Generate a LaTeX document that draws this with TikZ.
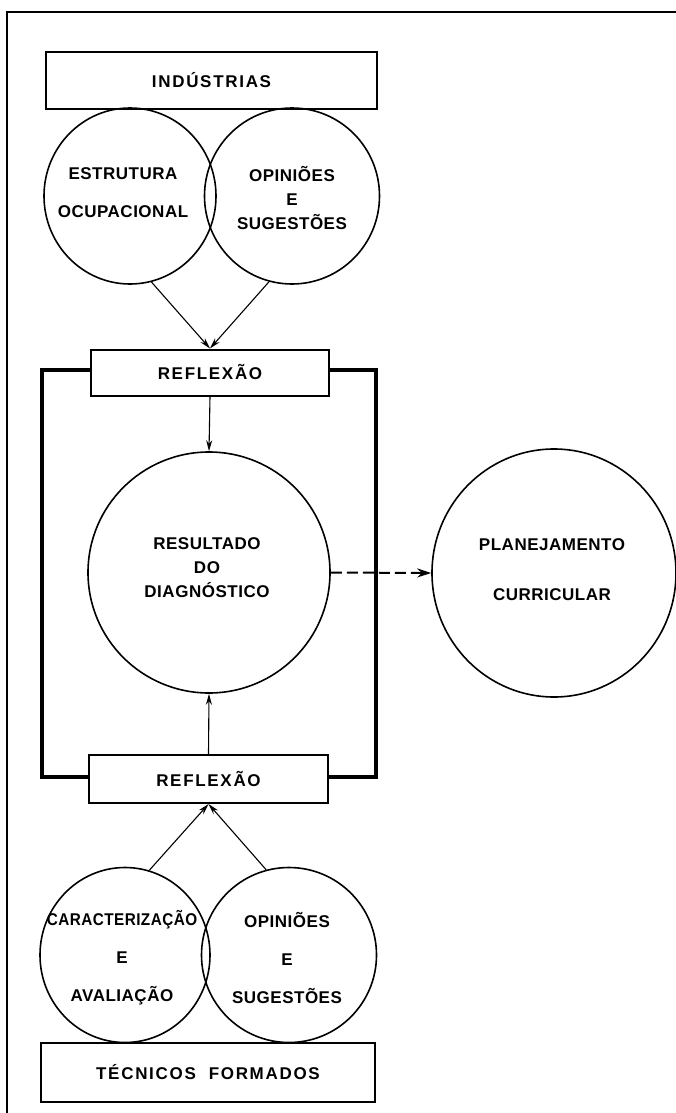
\documentclass[tikz,border=0pt]{standalone}
\usepackage{fontspec}
\usetikzlibrary{shapes.geometric,arrows.meta}
\newfontfamily\lab[LetterSpace=3]{Liberation Sans}
\newfontfamily\boxlab[LetterSpace=10]{Liberation Sans}
\begin{document}
\begin{tikzpicture}[x=1pt,y=-1pt,
  txt/.style={font=\lab\bfseries\fontsize{17}{24}\selectfont, align=center},
  boxnode/.style={draw, line width=2pt, fill=white, rectangle, inner sep=0pt, font=\boxlab\bfseries\fontsize{17}{24}\selectfont},
  ring/.style={draw, line width=1.6pt, ellipse, inner sep=0pt},
  arr/.style={line width=1.1pt, -{Stealth[length=11pt,width=6pt]}},
  frameline/.style={line width=3.4pt}]
\useasboundingbox (0,0) rectangle (676,1113);
% outer frame
\draw[line width=2pt] (7,1113) -- (7,12) -- (676,12);
% thick loop frame
\draw[frameline] (42,370) rectangle (376,777);
% boxes
\node[boxnode, minimum width=331pt, minimum height=57pt] (ind) at (211.5,80.5) {IND\'USTRIAS};
\node[boxnode, minimum width=238pt, minimum height=46pt] (r1) at (210,372.5) {REFLEX\~AO};
\node[boxnode, minimum width=239pt, minimum height=48pt] (r2) at (208.5,779) {REFLEX\~AO};
\node[boxnode, minimum width=334pt, minimum height=59pt] (tec) at (208,1072.5) {T\'ECNICOS\ \ FORMADOS};
% top circles
\node[ring, minimum width=172pt, minimum height=176pt] (c1) at (130,196) {};
\node[txt] (c1t) at (123,193) {ESTRUTURA\\[14pt]OCUPACIONAL};
\node[ring, minimum width=175pt, minimum height=176pt] (c2) at (292,196) {};
\node[txt] (c2t) at (292,198) {OPINI\~OES\\E\\SUGEST\~OES};
% central circles
\node[ring, minimum width=242pt, minimum height=241pt] (res) at (209,572.5) {};
\node[txt] (rest) at (207,568) {RESULTADO\\DO\\DIAGN\'OSTICO};
\node[ring, minimum width=244pt, minimum height=248pt] (plan) at (554,573) {};
\node[txt] (plant) at (552,570) {PLANEJAMENTO\\[26pt]CURRICULAR};
% bottom circles
\node[ring, minimum width=170pt, minimum height=175pt] (c3) at (125,955) {};
\node[txt] (c3t) at (122,958) {\scalebox{0.9}[1]{CARACTERIZA\c{C}\~AO}\\[14pt]E\\[14pt]AVALIA\c{C}\~AO};
\node[ring, minimum width=175pt, minimum height=175pt] (c4) at (289,955) {};
\node[txt] (c4t) at (287,958) {OPINI\~OES\\[14pt]E\\[14pt]SUGEST\~OES};
% connectors
\draw[arr] (c1.-76) -- (r1.north);
\draw[arr] (c2.-105) -- (r1.north);
\draw[arr] (r1.south) -- (res.north);
\draw[arr] (r2.north) -- (res.south);
\draw[arr] (c3.74) -- (r2.south);
\draw[arr] (c4.105) -- (r2.south);
\draw[line width=2pt, dash pattern=on 11pt off 5pt, -{Stealth[length=14pt,width=9pt]}] (res.east) -- (plan.west);
\end{tikzpicture}
\end{document}
